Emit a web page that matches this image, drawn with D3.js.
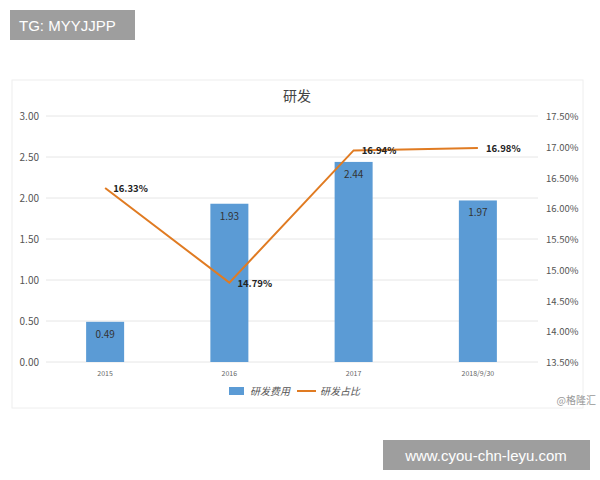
<!DOCTYPE html>
<html><head><meta charset="utf-8">
<script src="https://cdn.jsdelivr.net/npm/d3@7"></script>
<style>body{margin:0;background:#fff}</style>
</head><body>
<svg id="c" width="600" height="480"></svg>
<script>
/* chart data */
var categories = ["2015", "2016", "2017", "2018/9/30"]
var spend = [0.49, 1.93, 2.44, 1.97]
var ratio = [16.33, 14.79, 16.94, 16.98]
var leftTicks = [0, 0.5, 1, 1.5, 2, 2.5, 3]
var rightTicks = [13.5, 14, 14.5, 15, 15.5, 16, 16.5, 17, 17.5]

var svg = d3.select("#c")
var font = "'Noto Sans CJK SC', 'DejaVu Sans', sans-serif"

/* chart frame */
svg.append("rect").attr("x",12).attr("y",80).attr("width",571).attr("height",328)
  .attr("fill","#fff").attr("stroke","#eee")

var x = d3.scaleBand().domain(categories).range([43, 540])
var yL = d3.scaleLinear().domain([0, 3]).range([362, 116])
var yR = d3.scaleLinear().domain([13.5, 17.5]).range([362, 116])

/* grid */
svg.append("g").selectAll("line").data(leftTicks).enter().append("line")
  .attr("x1",46).attr("x2",538).attr("y1",d => yL(d)).attr("y2",d => yL(d))
  .attr("stroke","#e6e6e6")

/* left axis labels */
svg.append("g").selectAll("text").data(leftTicks).enter().append("text")
  .attr("x",39).attr("y",d => yL(d) + 4).attr("text-anchor","end")
  .attr("font-size",10).attr("font-family",font).attr("fill","#555")
  .text(d => d.toFixed(2))

/* right axis labels */
svg.append("g").selectAll("text").data(rightTicks).enter().append("text")
  .attr("x",546).attr("y",d => yR(d) + 4)
  .attr("font-size",9.5).attr("font-family",font).attr("fill","#555")
  .text(d => d.toFixed(2) + "%")

/* category labels */
svg.append("g").selectAll("text").data(categories).enter().append("text")
  .attr("x",d => x(d) + x.bandwidth()/2).attr("y",376).attr("text-anchor","middle")
  .attr("font-size",7).attr("font-family",font).attr("fill","#666")
  .text(d => d)

/* bars */
var bw = 38
svg.append("g").selectAll("rect").data(spend).enter().append("rect")
  .attr("x",(d,i) => x(categories[i]) + x.bandwidth()/2 - bw/2)
  .attr("y",d => yL(d)).attr("width",bw).attr("height",d => yL(0) - yL(d))
  .attr("fill","#5b9bd5")
svg.append("g").selectAll("text").data(spend).enter().append("text")
  .attr("x",(d,i) => x(categories[i]) + x.bandwidth()/2).attr("y",d => yL(d) + 16)
  .attr("text-anchor","middle").attr("font-size",10).attr("font-family",font).attr("fill","#333")
  .text(d => d.toFixed(2))

/* line */
var line = d3.line().x((d,i) => x(categories[i]) + x.bandwidth()/2).y(d => yR(d))
svg.append("path").datum(ratio).attr("d",line).attr("fill","none")
  .attr("stroke","#e07b22").attr("stroke-width",2)
svg.append("g").selectAll("text").data(ratio).enter().append("text")
  .attr("x",(d,i) => x(categories[i]) + x.bandwidth()/2 + 8).attr("y",d => yR(d) + 4)
  .attr("font-size",9.5).attr("font-weight","bold").attr("font-family",font).attr("fill","#222")
  .text(d => d.toFixed(2) + "%")

/* title */
svg.append("text").attr("x",297).attr("y",101).attr("text-anchor","middle")
  .attr("font-size",14).attr("font-family",font).attr("fill","#444").text("研发")

/* legend */
svg.append("rect").attr("x",229).attr("y",387).attr("width",15).attr("height",8).attr("fill","#5b9bd5")
svg.append("text").attr("x",250).attr("y",395).attr("font-size",10).attr("font-style","italic")
  .attr("font-family",font).attr("fill","#555").text("研发费用")
svg.append("line").attr("x1",297).attr("x2",316).attr("y1",391).attr("y2",391)
  .attr("stroke","#e07b22").attr("stroke-width",2)
svg.append("text").attr("x",320).attr("y",395).attr("font-size",10).attr("font-style","italic")
  .attr("font-family",font).attr("fill","#555").text("研发占比")

svg.append("text").attr("x",596).attr("y",404).attr("text-anchor","end").attr("font-size",10)
  .attr("font-family",font).attr("fill","#999").text("@格隆汇")

/* overlay boxes */
svg.append("rect").attr("x",10).attr("y",10).attr("width",125).attr("height",30).attr("fill","#9e9e9e")
svg.append("text").attr("x",19).attr("y",31).attr("font-size",15).attr("font-family","'Liberation Sans', sans-serif")
  .attr("fill","#fff").text("TG: MYYJJPP")
svg.append("rect").attr("x",383).attr("y",440).attr("width",207).attr("height",30).attr("fill","#9e9e9e")
svg.append("text").attr("x",486).attr("y",461).attr("text-anchor","middle").attr("font-size",15)
  .attr("font-family","'Liberation Sans', sans-serif").attr("fill","#fff").text("www.cyou-chn-leyu.com")
</script>
</body></html>
